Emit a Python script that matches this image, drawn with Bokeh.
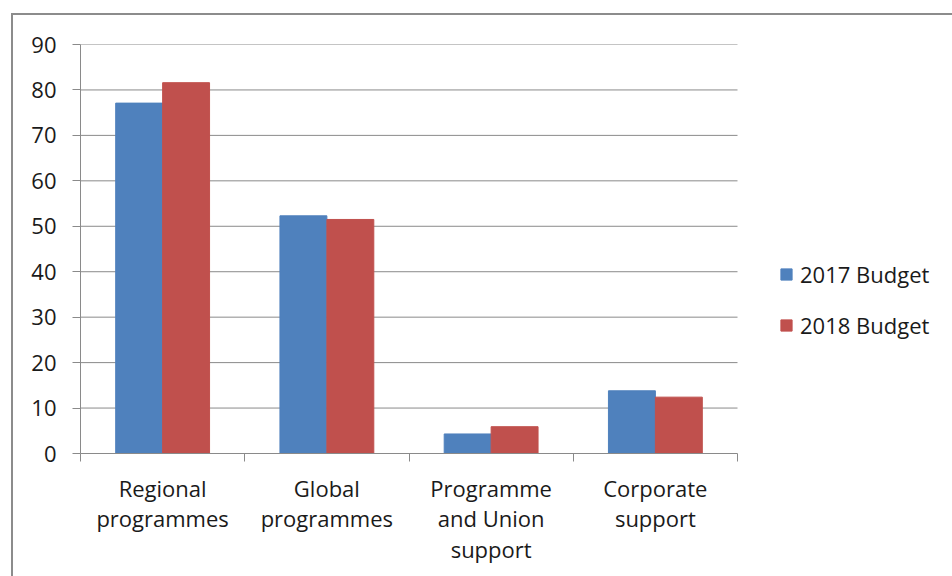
from bokeh.plotting import figure
from bokeh.models import ColumnDataSource, FixedTicker, Range1d, Legend, LegendItem
from bokeh.embed import file_html
from bokeh.resources import INLINE

categories = ["Regional\nprogrammes", "Global\nprogrammes", "Programme\nand Union\nsupport", "Corporate\nsupport"]
budget_2017 = [77.1, 52.3, 4.3, 13.8]
budget_2018 = [81.6, 51.5, 5.9, 12.4]
series_names = ["2017 Budget", "2018 Budget"]
y_ticks = [0, 10, 20, 30, 40, 50, 60, 70, 80, 90]

BLUE = "#4F81BD"
RED = "#C0504D"
GRID = "#8a8a8a"
FONT = "Open Sans"
FS = "22px"

W, H = 952, 576
ML, MT, MB = 80, 44, 123
PLOT_W = 657                      # pixel width used by the categories
FRAME_W = W - ML
n = len(categories)
x_end = n * FRAME_W / PLOT_W      # frame extends to the right to host the legend

bw = 1 / 3.5
centers = [i + 0.5 for i in range(n)]
src = ColumnDataSource(dict(
    x17=[c - bw / 2 for c in centers],
    x18=[c + bw / 2 for c in centers],
    v17=budget_2017,
    v18=budget_2018,
))
grid_src = ColumnDataSource(dict(y=y_ticks[1:], x0=[0] * (len(y_ticks) - 1), x1=[n] * (len(y_ticks) - 1)))

p = figure(width=W, height=H, output_backend="svg", toolbar_location=None,
           x_range=Range1d(0, x_end), y_range=Range1d(0, 90),
           min_border_left=ML, min_border_top=MT, min_border_right=0, min_border_bottom=MB)
p.border_fill_color = None
p.background_fill_color = None
p.outline_line_color = None
p.styles = {"box-shadow": "inset 11px 13px 0 0 white, inset 13px 15px 0 0 #8c8c8c"}

p.segment(x0="x0", x1="x1", y0="y", y1="y", source=grid_src, line_color=GRID, line_width=1)

r17 = p.vbar(x="x17", top="v17", width=bw, source=src, fill_color=BLUE, line_color=BLUE)
r18 = p.vbar(x="x18", top="v18", width=bw, source=src, fill_color=RED, line_color=RED)

# axes
p.xgrid.grid_line_color = None
p.ygrid.grid_line_color = None

p.yaxis.ticker = FixedTicker(ticks=y_ticks)
p.yaxis.axis_line_color = GRID
p.yaxis.major_tick_line_color = GRID
p.yaxis.major_tick_out = 8
p.yaxis.major_tick_in = 0
p.yaxis.minor_tick_line_color = None
p.yaxis.major_label_text_font = FONT
p.yaxis.major_label_text_font_size = FS
p.yaxis.major_label_text_color = "#1a1a1a"
p.yaxis.major_label_standoff = 16

p.xaxis.bounds = (0, n)
p.xaxis.ticker = FixedTicker(ticks=centers, minor_ticks=list(range(n + 1)))
p.xaxis.major_label_overrides = {c: lab for c, lab in zip(centers, categories)}
p.xaxis.axis_line_color = GRID
p.xaxis.major_tick_line_color = None
p.xaxis.major_tick_out = 0
p.xaxis.major_tick_in = 0
p.xaxis.minor_tick_line_color = GRID
p.xaxis.minor_tick_out = 8
p.xaxis.minor_tick_in = 0
p.xaxis.major_label_text_font = FONT
p.xaxis.major_label_text_font_size = FS
p.xaxis.major_label_text_color = "#1a1a1a"
p.xaxis.major_label_standoff = 11
p.xaxis.major_label_text_line_height = 1.03

legend = Legend(items=[LegendItem(label=series_names[0], renderers=[r17]),
                       LegendItem(label=series_names[1], renderers=[r18])],
                location=(699, 113))
legend.border_line_color = None
legend.background_fill_alpha = 0
legend.padding = 0
legend.margin = 0
legend.glyph_width = 14
legend.glyph_height = 14
legend.label_text_font = FONT
legend.label_text_font_size = FS
legend.label_text_color = "#1a1a1a"
legend.label_standoff = 7
legend.spacing = 21
p.add_layout(legend, "center")

open("out.html", "w").write(file_html(p, INLINE))
